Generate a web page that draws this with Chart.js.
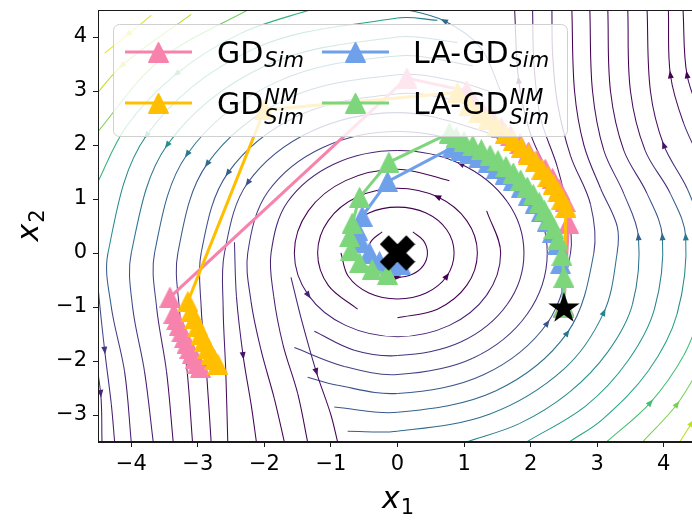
<!DOCTYPE html>
<html>
<head>
<meta charset="utf-8">
<script src="https://cdn.jsdelivr.net/npm/chart.js@4.4.1/dist/chart.umd.min.js"></script>
<style>
  html, body { margin: 0; padding: 0; background: #ffffff; overflow: hidden; }
  #wrap { width: 692px; height: 520px; overflow: hidden; position: relative; }
  canvas { display: block; }
</style>
</head>
<body>
<div id="wrap"><canvas id="chart" width="700" height="520"></canvas></div>
<script>
// ---- axes ----
const xRange = [-4.5, 4.5];
const yRange = [-3.5, 4.5];
const xTicks = [-4, -3, -2, -1, 0, 1, 2, 3, 4];
const yTicks = [-3, -2, -1, 0, 1, 2, 3, 4];

// ---- optimiser trajectories, [x1, x2] per iterate ----
const gdSim = [[2.5,-1.0],[2.57,0.55],[2.52,0.95],[2.43,1.18],[2.33,1.38],[2.22,1.55],[2.1,1.72],[1.97,1.87],
  [1.84,2.02],[1.7,2.17],[1.56,2.32],[1.42,2.47],[1.28,2.62],[1.15,2.78],[1.04,3.0],[0.14,3.24],
  [-3.42,-0.82],[-3.36,-1.12],[-3.32,-1.24],[-3.28,-1.35],[-3.24,-1.46],[-3.2,-1.57],[-3.16,-1.67],
  [-3.12,-1.77],[-3.08,-1.86],[-3.04,-1.95],[-3.0,-2.04],[-2.96,-2.12]];
const gdSimNM = [[2.5,-1.0],[2.53,0.85],[2.47,1.0],[2.41,1.13],[2.34,1.27],[2.26,1.41],[2.17,1.55],[2.07,1.69],
  [1.97,1.82],[1.86,1.95],[1.74,2.08],[1.62,2.21],[1.49,2.34],[1.36,2.47],[1.22,2.6],[1.08,2.74],[0.9,2.97],
  [-2.0,2.65],[-3.15,-0.9],[-3.1,-1.08],[-3.05,-1.22],[-3.0,-1.36],[-2.95,-1.5],[-2.9,-1.63],[-2.85,-1.76],
  [-2.8,-1.88],[-2.75,-1.98],[-2.7,-2.06]];
const laGdSim = [[2.5,-1.0],[2.45,-0.2],[2.4,0.15],[2.33,0.38],[2.25,0.58],[2.16,0.76],[2.07,0.92],[1.97,1.07],
  [1.86,1.21],[1.74,1.34],[1.62,1.46],[1.49,1.57],[1.36,1.67],[1.22,1.76],[1.08,1.84],[0.95,1.9],[0.82,1.95],
  [-0.15,1.32],[-0.53,0.68],[-0.6,0.42],[-0.55,0.2],[-0.42,0.0],[-0.27,-0.16],[-0.1,-0.24],[0.05,-0.22]];
const laGdSimNM = [[2.5,-1.0],[2.5,-0.45],[2.47,-0.05],[2.41,0.25],[2.35,0.45],[2.28,0.62],[2.21,0.78],[2.13,0.93],
  [2.04,1.08],[1.95,1.22],[1.85,1.35],[1.74,1.48],[1.63,1.6],[1.51,1.71],[1.39,1.81],[1.26,1.91],[1.13,1.99],
  [1.0,2.07],[0.88,2.14],[0.78,2.22],[-0.13,1.68],[-0.57,1.03],[-0.68,0.55],[-0.72,0.3],[-0.7,0.05],
  [-0.57,-0.18],[-0.38,-0.31],[-0.15,-0.4]];
const equilibrium = [[0, 0]];
const startPoint = [[2.5, -1.0]];

// ---- streamlines of the game's vector field: [x1, x2, speed shade 0..10] ----
const streamRings = [
  [[-0.23,0.39,0],[-0.39,0.23,0],[-0.45,0,0],[-0.39,-0.23,0],[-0.23,-0.39,0],[0,-0.45,0],[0.23,-0.39,0],[0.39,-0.23,0],[0.45,0,0],[0.39,0.23,0],[0.23,0.39,0]],
  [[-0.85,0,0],[-0.74,-0.43,0],[-0.43,-0.74,0],[0,-0.85,0],[0.43,-0.74,0],[0.74,-0.43,0],[0.85,0,0],[0.74,0.43,0],[0.43,0.74,0],[0,0.85,0],[-0.43,0.74,0],[-0.74,0.43,0]],
  [[0,-1.2,0],[0.6,-1.04,0],[1.04,-0.6,0],[1.2,0,0],[1.04,0.6,0],[0.6,1.04,0],[0,1.2,0],[-0.6,1.04,0],[-1.04,0.6,0],[-1.2,0,0],[-1.04,-0.6,0],[-0.6,-1.04,0]],
  [[0.78,1.34,0],[0,1.55,0],[-0.78,1.34,0],[-1.34,0.78,0],[-1.55,0,0],[-1.34,-0.78,1],[-0.78,-1.34,1],[0,-1.55,1],[0.78,-1.34,1],[1.34,-0.78,1],[1.55,0,0],[1.34,0.78,0]],
  [[-1.25,-1.45,1],[-0.65,-1.8,1],[0,-1.9,1.5],[0.95,-1.65,1.5],[1.65,-0.95,1],[1.9,0,1],[1.65,0.95,0.5],[0.95,1.65,0.5],[0,1.9,1],[-0.95,1.65,1],[-1.65,0.95,1],[-1.9,0,1],[-1.86,-0.8,1],[-1.72,-1.7,0.5],[-1.5,-2.6,0],[-1.35,-3.5,0]],
  [[-1.55,-1.75,1.5],[-0.8,-2.1,2],[0,-2.25,2],[1.13,-1.95,2],[1.95,-1.13,1.5],[2.25,0,1],[1.95,1.13,1],[1.13,1.95,1],[0,2.25,1.5],[-1.13,1.95,2],[-1.95,1.13,2],[-2.25,0,1.5],[-2.2,-0.9,1],[-2.05,-1.8,0.5],[-1.85,-2.7,0],[-1.7,-3.5,0]]
];
const streamWest = [
  [[1.67,1.99,1],[1.3,2.25,1.5],[0,2.6,2],[-1.3,2.25,2.5],[-2.25,1.3,2.5],[-2.6,0,1.5],[-2.62,-1.0,1],[-2.58,-2.2,0.5],[-2.55,-3.5,0]],
  [[1.48,2.55,1.5],[0.77,2.85,2],[0,2.95,2.5],[-1.48,2.55,3],[-2.55,1.48,3],[-2.95,0,2],[-2.95,-1.0,1],[-2.87,-2.2,0.5],[-2.8,-3.5,0]],
  [[1.39,2.99,2],[0.85,3.19,2.5],[0,3.3,3],[-1.65,2.86,4],[-2.86,1.65,3.5],[-3.3,0,2],[-3.28,-1.0,1.5],[-3.16,-2.2,0.5],[-3.08,-3.5,0]],
  [[1.13,3.47,2.5],[0,3.65,4],[-1.83,3.16,4.5],[-3.16,1.83,4],[-3.65,0,2.5],[-3.62,-1.0,1.5],[-3.47,-2.2,0.5],[-3.37,-3.5,0]],
  [[0.9,3.9,3],[0,4.0,4.5],[-2.0,3.46,5.5],[-3.46,2.0,5],[-4.0,0,3],[-3.98,-1.0,2],[-3.8,-2.2,1],[-3.67,-3.5,0.5]],
  [[0.6,4.31,3.5],[0,4.35,5],[-2.18,3.77,6.5],[-3.77,2.18,6],[-4.35,0,3.5],[-4.3,-1.0,2.5],[-4.1,-2.2,1],[-4.0,-3.5,0.5]],
  [[-1.22,4.54,6],[-2.35,4.07,7],[-3.32,3.32,7],[-4.07,2.35,7],[-4.54,1.22,6]],
  [[-2.13,4.58,7.5],[-3.57,3.57,8],[-4.58,2.13,8]],
  [[-3.1,4.42,8.5],[-4.14,3.47,9],[-4.68,2.7,9]],
  [[-3.7,4.4,9.5],[-4.4,3.7,9.5]],
  [[-4.55,0.6,4.5],[-4.5,-0.6,3],[-4.4,-1.8,1.5],[-4.3,-2.8,1],[-4.25,-3.5,0.5]],
  [[-4.6,-1.5,2],[-4.46,-2.6,1],[-4.44,-3.5,0.5]],
  [[-1.6,-0.45,1],[-1.45,-1.2,1],[-1.22,-2.2,0.5],[-1.0,-3.0,0],[-0.9,-3.5,0]],
  [[-2.45,0.2,2],[-2.42,-0.8,1],[-2.32,-1.9,0.5],[-2.2,-2.8,0],[-2.12,-3.5,0]]
];
const streamEast = [
  [[1.55,3.0,2],[1.25,3.8,3],[0.7,4.3,3.5],[0,4.55,4]],
  [[2.3,1.4,0.5],[2.0,2.2,0.5],[1.82,3.2,0.5],[1.76,4.5,0.5]],
  [[-1.35,-2.3,2],[-0.9,-2.45,2.5],[0,-2.6,2.5],[1.3,-2.25,3],[2.25,-1.3,2.5],[2.6,0,1.5],[2.55,0.8,1],[2.4,1.6,0.5],[2.15,2.5,0.5],[2.05,3.5,0.5],[2.03,4.5,0.5]],
  [[-0.95,-2.85,2.5],[0,-2.95,3],[1.48,-2.55,3.5],[2.55,-1.48,4],[2.95,0,2.5],[2.9,0.9,1],[2.6,1.8,0.5],[2.4,2.8,0.5],[2.33,3.7,0.5],[2.32,4.5,0.5]],
  [[-0.75,-3.3,3],[0,-3.3,3],[1.39,-2.98,4],[2.5,-2.15,4.5],[3.1,-1.1,4.5],[3.3,0,3],[3.3,0.5,2],[3.05,1.2,1],[2.8,2.0,0.5],[2.66,3.0,0],[2.62,4.5,0]],
  [[1.03,-3.5,4],[1.83,-3.16,4.5],[2.58,-2.58,5],[3.16,-1.83,5],[3.53,-0.95,4.5],[3.62,0.3,3],[3.4,1.1,1.5],[3.1,1.9,0.5],[2.93,3.0,0],[2.89,4.5,0]],
  [[1.94,-3.5,5],[2.83,-2.83,5.5],[3.46,-2.0,5.5],[3.86,-1.04,5],[3.98,0.3,3.5],[3.75,1.1,1.5],[3.4,1.9,0.5],[3.2,3.0,0],[3.16,4.5,0]],
  [[2.58,-3.5,6],[3.08,-3.08,6],[3.77,-2.18,6],[4.2,-1.13,5.5],[4.33,0.3,4],[4.1,1.1,2],[3.72,1.9,0.5],[3.5,3.0,0],[3.46,4.5,0]],
  [[4.6,0.4,4],[4.35,1.2,2],[4.0,2.0,0.5],[3.8,3.0,0],[3.75,4.5,0]],
  [[4.6,1.6,2],[4.3,2.4,0.5],[4.1,3.3,0],[4.07,4.5,0]],
  [[4.6,2.4,1],[4.35,3.3,0],[4.29,4.5,0]],
  [[3.14,-3.5,7],[3.8,-2.77,7],[4.3,-1.9,7],[4.6,-1.0,6.5]],
  [[3.68,-3.5,8],[4.2,-2.8,8],[4.6,-2.0,8]],
  [[4.24,-3.5,9],[4.6,-2.8,9]]
];

// ---- styling ----
const FONT = '"DejaVu Sans", sans-serif';
const PINK = '#f783ad', ORANGE = '#ffbf00', BLUE = '#6fa0ea', GREEN = '#7dd67b';
const VIRIDIS = ['#440154','#482475','#414487','#355f8d','#2a788e','#21918c','#22a884','#44bf70','#7ad151','#bddf26','#fde725'];

function hexRgb(h) { return [1,3,5].map(i => parseInt(h.slice(i, i + 2), 16)); }
function shadeColor(t) {
  t = Math.max(0, Math.min(10, t));
  const i = Math.min(9, Math.floor(t)), f = t - i;
  const a = hexRgb(VIRIDIS[i]), b = hexRgb(VIRIDIS[i + 1]);
  return 'rgb(' + a.map((v, k) => Math.round(v + (b[k] - v) * f)).join(',') + ')';
}

function markerCanvas(size, draw) {
  const c = document.createElement('canvas');
  c.width = size; c.height = size;
  draw(c.getContext('2d'), size);
  return c;
}
function triangleMarker(color) {
  return markerCanvas(21, (g, s) => {
    g.fillStyle = color; g.strokeStyle = color; g.lineWidth = 1;
    g.beginPath(); g.moveTo(s / 2, 0.5); g.lineTo(s - 0.5, s - 0.5); g.lineTo(0.5, s - 0.5); g.closePath();
    g.fill(); g.stroke();
  });
}
const xMarker = markerCanvas(36, (g, s) => {
  const u = s / 4, c = s / 2;
  const p = [[-1,-2],[0,-1],[1,-2],[2,-1],[1,0],[2,1],[1,2],[0,1],[-1,2],[-2,1],[-1,0],[-2,-1]];
  g.fillStyle = '#000';
  g.beginPath();
  p.forEach(([a, b], i) => { const X = c + a * u * 0.98, Y = c + b * u * 0.98; i ? g.lineTo(X, Y) : g.moveTo(X, Y); });
  g.closePath(); g.fill();
});
const starMarker = markerCanvas(36, (g, s) => {
  const c = s / 2, R = 16.5, r = R * 0.381966;
  g.fillStyle = '#000';
  g.beginPath();
  for (let k = 0; k < 10; k++) {
    const ang = -Math.PI / 2 + k * Math.PI / 5, rad = k % 2 ? r : R;
    const X = c + rad * Math.cos(ang), Y = c + 1.5 + rad * Math.sin(ang);
    k ? g.lineTo(X, Y) : g.moveTo(X, Y);
  }
  g.closePath(); g.fill();
});

const toXY = arr => arr.map(p => ({ x: p[0], y: p[1] }));

function streamDataset(line) {
  return {
    data: toXY(line),
    shades: line.map(p => p[2]),
    isStream: true,
    showLine: true,
    pointRadius: 0,
    pointHoverRadius: 0,
    borderWidth: 1.05,
    tension: 0.35,
    borderColor: shadeColor(line[0][2]),
    segment: {
      borderColor: ctx => {
        const sh = ctx.chart.data.datasets[ctx.datasetIndex].shades;
        return shadeColor((sh[ctx.p0DataIndex] + sh[ctx.p1DataIndex]) / 2);
      }
    },
    order: 100
  };
}

function pathDataset(points, color, base, sub, sup, order) {
  return {
    data: toXY(points),
    showLine: true,
    borderColor: color,
    backgroundColor: color,
    borderWidth: 3,
    tension: 0,
    pointStyle: triangleMarker(color),
    pointRadius: 10,
    legendColor: color,
    legendBase: base, legendSub: sub, legendSup: sup,
    order: order
  };
}

const datasets = [];
[...streamRings, ...streamWest, ...streamEast].forEach(l => datasets.push(streamDataset(l)));
datasets.push(pathDataset(gdSim, PINK, 'GD', 'Sim', '', 40));
datasets.push(pathDataset(gdSimNM, ORANGE, 'GD', 'Sim', 'NM', 30));
datasets.push(pathDataset(laGdSim, BLUE, 'LA-GD', 'Sim', '', 20));
datasets.push(pathDataset(laGdSimNM, GREEN, 'LA-GD', 'Sim', 'NM', 10));
datasets.push({ data: toXY(equilibrium), pointStyle: xMarker, pointRadius: 18, order: 1 });
datasets.push({ data: toXY(startPoint), pointStyle: starMarker, pointRadius: 18, order: 0 });

// arrow heads on each streamline, drawn right after the line itself
const streamArrows = {
  id: 'streamArrows',
  afterDatasetDraw(chart, args) {
    const ds = chart.data.datasets[args.index];
    if (!ds.isStream) return;
    const xs = chart.scales.x, ys = chart.scales.y, ca = chart.chartArea;
    const px = ds.data.map(p => [xs.getPixelForValue(p.x), ys.getPixelForValue(p.y)]);
    const seg = [];
    let total = 0;
    for (let i = 1; i < px.length; i++) {
      const L = Math.hypot(px[i][0] - px[i - 1][0], px[i][1] - px[i - 1][1]);
      seg.push(L); total += L;
    }
    let ax, ay, dx, dy, shade;
    if (px.length >= 3) {
      let acc = 0, best = 1, bestDiff = Infinity;
      for (let i = 1; i < px.length - 1; i++) {
        acc += seg[i - 1];
        const d = Math.abs(acc - total / 2);
        if (d < bestDiff) { bestDiff = d; best = i; }
      }
      ax = px[best][0]; ay = px[best][1];
      dx = px[best + 1][0] - px[best - 1][0]; dy = px[best + 1][1] - px[best - 1][1];
      shade = ds.shades[best];
    } else {
      ax = (px[0][0] + px[1][0]) / 2; ay = (px[0][1] + px[1][1]) / 2;
      dx = px[1][0] - px[0][0]; dy = px[1][1] - px[0][1];
      shade = (ds.shades[0] + ds.shades[1]) / 2;
    }
    const ang = Math.atan2(dy, dx);
    const ctx = chart.ctx;
    ctx.save();
    ctx.beginPath(); ctx.rect(ca.left, ca.top, ca.right - ca.left, ca.bottom - ca.top); ctx.clip();
    ctx.translate(ax, ay); ctx.rotate(ang);
    ctx.fillStyle = shadeColor(shade);
    ctx.beginPath(); ctx.moveTo(4, 0); ctx.lineTo(-3.5, -3); ctx.lineTo(-3.5, 3); ctx.closePath(); ctx.fill();
    ctx.restore();
  }
};

// upright base text with italic sub/superscripts
function drawMath(ctx, x, y, base, sub, sup, size) {
  ctx.textAlign = 'left'; ctx.textBaseline = 'alphabetic';
  ctx.font = size + 'px ' + FONT;
  ctx.fillText(base, x, y);
  const w = ctx.measureText(base).width;
  const s = Math.round(size * 0.7);
  ctx.font = 'italic ' + s + 'px ' + FONT;
  if (sup) ctx.fillText(sup, x + w + 1, y - size * 0.34);
  if (sub) ctx.fillText(sub, x + w + 1, y + (sup ? size * 0.33 : size * 0.12));
}

// frame, legend and axis labels
const decorations = {
  id: 'decorations',
  afterDatasetsDraw(chart) {
    const ctx = chart.ctx, ca = chart.chartArea;
    ctx.save();
    ctx.strokeStyle = '#1a1a1a'; ctx.lineWidth = 1;
    ctx.strokeRect(ca.left + 0.5, ca.top + 0.5, ca.right - ca.left - 1, ca.bottom - ca.top - 1);

    // legend box
    const bx = 113, by = 24, bw = 454, bh = 112;
    ctx.beginPath(); ctx.roundRect(bx + 0.5, by + 0.5, bw, bh, 6);
    ctx.fillStyle = 'rgba(255,255,255,0.8)'; ctx.fill();
    ctx.strokeStyle = '#d0d0d0'; ctx.lineWidth = 1; ctx.stroke();

    const entries = chart.data.datasets.filter(d => d.legendBase);
    const colX = [125, 322], textX = [217, 413], rowY = [52, 103];
    entries.forEach((d, i) => {
      const col = Math.floor(i / 2), row = i % 2;
      const hx = colX[col], hy = rowY[row];
      ctx.strokeStyle = d.legendColor; ctx.lineWidth = 3;
      ctx.beginPath(); ctx.moveTo(hx, hy); ctx.lineTo(hx + 67, hy); ctx.stroke();
      const m = d.pointStyle;
      ctx.drawImage(m, hx + 33.5 - m.width / 2, hy - m.height / 2);
      ctx.fillStyle = '#000';
      drawMath(ctx, textX[col], hy + 11, d.legendBase, d.legendSub, d.legendSup, 30);
    });
    ctx.restore();
  },
  afterDraw(chart) {
    const ctx = chart.ctx, ca = chart.chartArea;
    ctx.save();
    ctx.fillStyle = '#000';
    ctx.font = 'italic 30px ' + FONT;
    const wx = ctx.measureText('x').width;
    ctx.font = '21px ' + FONT;
    const w1 = ctx.measureText('1').width;
    const cx = (ca.left + ca.right) / 2 - (wx + w1) / 2;
    ctx.textBaseline = 'alphabetic'; ctx.textAlign = 'left';
    // x1 below the axis
    ctx.font = 'italic 30px ' + FONT; ctx.fillText('x', cx, 508);
    ctx.font = '21px ' + FONT; ctx.fillText('1', cx + wx + 1, 514);
    // x2 beside the axis
    ctx.translate(38, (ca.top + ca.bottom) / 2);
    ctx.rotate(-Math.PI / 2);
    ctx.font = 'italic 30px ' + FONT; ctx.fillText('x', -(wx + w1) / 2, 0);
    ctx.font = '21px ' + FONT; ctx.fillText('2', -(wx + w1) / 2 + wx + 1, 6);
    ctx.restore();
  }
};

const minusFmt = v => (v < 0 ? '\u2212' + Math.abs(v) : String(v));

new Chart(document.getElementById('chart'), {
  type: 'scatter',
  data: { datasets },
  plugins: [streamArrows, decorations],
  options: {
    responsive: false,
    devicePixelRatio: 1,
    animation: false,
    events: [],
    layout: { autoPadding: false, padding: { top: 10, right: 3, left: 0, bottom: 0 } },
    plugins: { legend: { display: false }, tooltip: { enabled: false } },
    scales: {
      x: {
        type: 'linear', min: xRange[0], max: xRange[1],
        afterBuildTicks: s => { s.ticks = xTicks.map(v => ({ value: v })); },
        afterFit: s => { s.height = 78; s.paddingLeft = 0; s.paddingRight = 0; },
        ticks: { font: { family: FONT, size: 21 }, color: '#000', padding: 5, maxRotation: 0, autoSkip: false, callback: minusFmt },
        grid: { drawOnChartArea: false, drawTicks: true, tickLength: 5, color: '#1a1a1a', tickColor: '#1a1a1a', tickWidth: 1 },
        border: { display: true, color: '#1a1a1a', width: 1 }
      },
      y: {
        type: 'linear', min: yRange[0], max: yRange[1],
        afterBuildTicks: s => { s.ticks = yTicks.map(v => ({ value: v })); },
        afterFit: s => { s.width = 98; s.paddingTop = 0; s.paddingBottom = 0; },
        ticks: { font: { family: FONT, size: 21 }, color: '#000', padding: 6, autoSkip: false, callback: minusFmt },
        grid: { drawOnChartArea: false, drawTicks: true, tickLength: 5, color: '#1a1a1a', tickColor: '#1a1a1a', tickWidth: 1 },
        border: { display: true, color: '#1a1a1a', width: 1 }
      }
    }
  }
});
</script>
</body>
</html>
